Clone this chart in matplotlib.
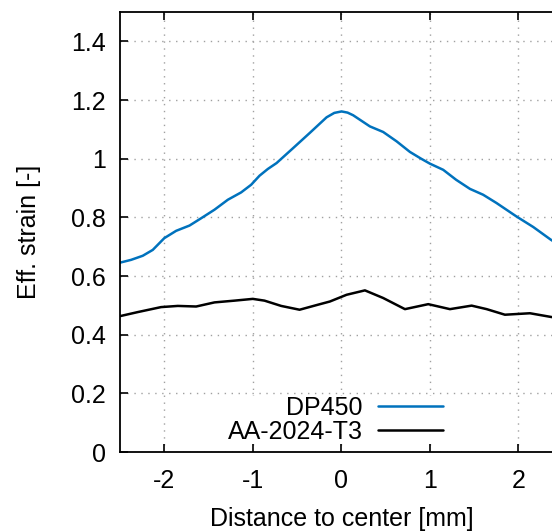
import matplotlib
matplotlib.use("Agg")
import matplotlib.pyplot as plt

plt.rcParams['font.family'] = ['Liberation Sans', 'DejaVu Sans']
plt.rcParams['axes.unicode_minus'] = False

dp450_x = [-2.52, -2.375, -2.243, -2.13, -2.0, -1.866, -1.715, -1.583, -1.433, -1.282,
           -1.132, -1.019, -0.924, -0.83, -0.732, -0.545, -0.356, -0.167, -0.08, 0.002,
           0.07, 0.133, 0.322, 0.472, 0.624, 0.774, 0.9, 1.0, 1.15, 1.296, 1.452, 1.601,
           1.751, 1.977, 2.167, 2.364, 2.52]
dp450_y = [0.644, 0.655, 0.669, 0.689, 0.729, 0.754, 0.772, 0.797, 0.826, 0.860,
           0.885, 0.911, 0.942, 0.965, 0.985, 1.036, 1.088, 1.141, 1.156, 1.161,
           1.157, 1.148, 1.110, 1.091, 1.059, 1.023, 1.0, 0.983, 0.962, 0.928, 0.897, 0.877,
           0.849, 0.803, 0.767, 0.724, 0.694]

aa_x = [-2.52, -2.488, -2.299, -2.036, -1.847, -1.64, -1.433, -1.207, -1.0, -0.868,
        -0.68, -0.472, -0.266, -0.13, 0.059, 0.266, 0.472, 0.718, 0.981, 1.226,
        1.471, 1.641, 1.847, 2.13, 2.375, 2.52]
aa_y = [0.463, 0.464, 0.477, 0.494, 0.498, 0.496, 0.510, 0.516, 0.522, 0.516,
        0.498, 0.485, 0.502, 0.513, 0.536, 0.551, 0.525, 0.487, 0.504, 0.487,
        0.499, 0.487, 0.468, 0.473, 0.460, 0.457]

x_ticks = [-2, -1, 0, 1, 2]
y_ticks = [0, 0.2, 0.4, 0.6, 0.8, 1.0, 1.2, 1.4]
y_ticklabels = ['0', '0.2', '0.4', '0.6', '0.8', '1', '1.2', '1.4']

W, H = 552, 531
fig = plt.figure(figsize=(W / 100, H / 100), dpi=100)
ax = fig.add_axes([120 / W, (H - 452) / H, (562.75 - 120) / W, (452 - 12) / H])

ax.plot(dp450_x, dp450_y, color='#0072bd', lw=1.8, label='DP450',
        solid_joinstyle='round', solid_capstyle='round')
ax.plot(aa_x, aa_y, color='black', lw=1.8, label='AA-2024-T3',
        solid_joinstyle='round', solid_capstyle='round')

ax.set_xlim(-2.5, 2.5)
ax.set_ylim(0, 1.5)
ax.set_xticks(x_ticks)
ax.set_xticklabels([str(v) for v in x_ticks])
ax.set_yticks(y_ticks)
ax.set_yticklabels(y_ticklabels)

ax.grid(True, color='#a0a0a0', linestyle=(0, (1, 4)), lw=1.0)
ax.tick_params(direction='in', length=6, width=1.2, top=True, right=True,
               labelsize=18, colors='black')
ax.tick_params(axis='x', pad=12)
ax.tick_params(axis='y', pad=10)
for s in ax.spines.values():
    s.set_linewidth(1.3)

ax.set_xlabel('Distance to center [mm]', fontsize=18, labelpad=10)
ax.set_ylabel('Eff. strain [-]', fontsize=18, labelpad=22)

leg = ax.legend(loc='lower right', bbox_to_anchor=(443 / W, (H - 444) / H),
                bbox_transform=fig.transFigure, markerfirst=False, fontsize=18,
                handlelength=2.6, handletextpad=0.6, labelspacing=0.0,
                borderpad=0.0, borderaxespad=0, frameon=True, fancybox=False,
                framealpha=1)
leg.get_frame().set_edgecolor('none')
leg.get_frame().set_facecolor('white')

fig.savefig('out.png', dpi=100)
